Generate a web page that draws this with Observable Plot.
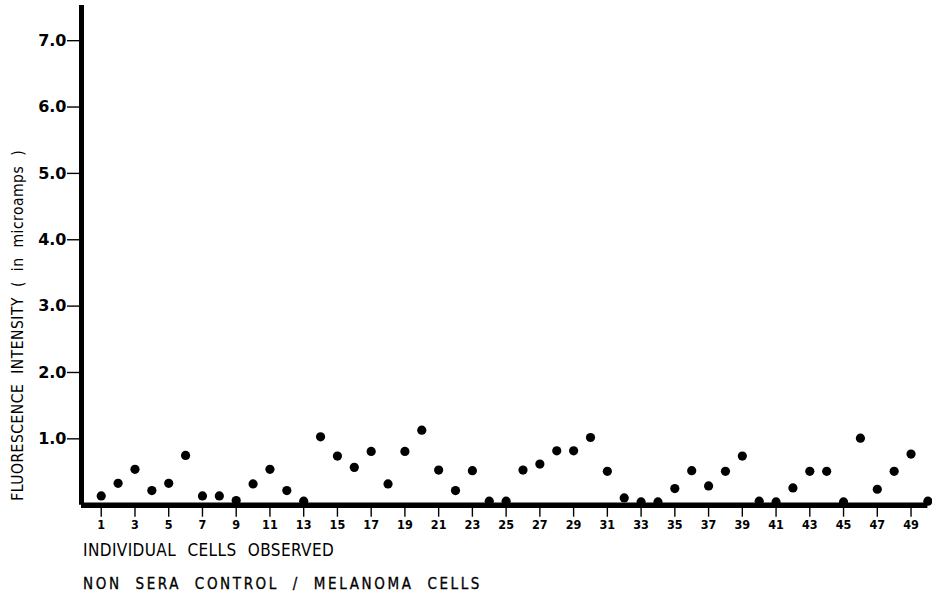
<!DOCTYPE html>
<html>
<head>
<meta charset="utf-8">
<script src="https://cdn.jsdelivr.net/npm/d3@7"></script>
<script src="https://cdn.jsdelivr.net/npm/@observablehq/plot@0.6"></script>
<style>
  html, body { margin: 0; padding: 0; background: #fff; }
  #wrap { position: relative; width: 932px; height: 603px; overflow: hidden; }
  .cap { position: absolute; left: 83px; color: #000; font-family: "DejaVu Sans Condensed", "DejaVu Sans", sans-serif; white-space: pre; }
  #cap1 { top: 540px; font-size: 17px; word-spacing: 6px; letter-spacing: 0.4px; }
  #cap2 { top: 575px; font-size: 15px; letter-spacing: 2.6px; word-spacing: 7px; -webkit-text-stroke: 0.3px #000; }
</style>
</head>
<body>
<div id="wrap">
  <div id="chart"></div>
  <div class="cap" id="cap1">INDIVIDUAL CELLS OBSERVED</div>
  <div class="cap" id="cap2">NON SERA CONTROL / MELANOMA CELLS</div>
</div>
<script>
// Fluorescence intensity (microamps) of each observed cell, cells 1..50
const intensity = [
  0.14, 0.33, 0.54, 0.22, 0.33, 0.75, 0.14, 0.14, 0.07, 0.32,
  0.54, 0.22, 0.06, 1.03, 0.74, 0.57, 0.81, 0.32, 0.81, 1.13,
  0.53, 0.22, 0.52, 0.06, 0.06, 0.53, 0.62, 0.82, 0.82, 1.02,
  0.51, 0.11, 0.05, 0.05, 0.25, 0.52, 0.29, 0.51, 0.74, 0.06,
  0.05, 0.26, 0.51, 0.51, 0.05, 1.01, 0.24, 0.51, 0.77, 0.06
];
const xTicks = [1,3,5,7,9,11,13,15,17,19,21,23,25,27,29,31,33,35,37,39,41,43,45,47,49];
const yTicks = [1, 2, 3, 4, 5, 6, 7];
const yTickLabels = ["1.0", "2.0", "3.0", "4.0", "5.0", "6.0", "7.0"];
const yTitle = "FLUORESCENCE INTENSITY ( in microamps )";

const xDomain = [-0.17, 50];
const yDomain = [0, 7.53];

const data = intensity.map((v, i) => ({cell: i + 1, value: v}));

const chart = Plot.plot({
  width: 932,
  height: 535,
  marginLeft: 81,
  marginRight: 4.6,
  marginTop: 5,
  marginBottom: 30.3,
  style: {background: "#fff", color: "#000"},
  x: {domain: xDomain},
  y: {domain: yDomain},
  marks: [
    Plot.axisY({
      ticks: yTicks,
      tickFormat: (d) => yTickLabels[yTicks.indexOf(d)],
      tickSize: 14,
      tickPadding: 1,
      strokeWidth: 1.4,
      fontSize: 16,
      fontWeight: "bold",
      fontFamily: "DejaVu Sans, sans-serif",
      label: null
    }),
    Plot.axisX({
      ticks: xTicks,
      tickFormat: (d) => String(d),
      tickSize: 12,
      tickPadding: 3,
      strokeWidth: 1.4,
      fontSize: 12.5,
      fontWeight: "bold",
      fontFamily: "Liberation Sans Narrow, DejaVu Sans Condensed, sans-serif",
      label: null
    }),
    Plot.ruleY([0], {stroke: "#000", strokeWidth: 5.5}),
    Plot.ruleX([xDomain[0]], {stroke: "#000", strokeWidth: 5}),
    Plot.dot(data, {x: "cell", y: "value", r: 4.6, fill: "#000", stroke: null}),
    Plot.text([yTitle], {
      frameAnchor: "left",
      textAnchor: "middle",
      rotate: -90,
      dx: -63,
      dy: 70,
      fontSize: 15.5,
      fontFamily: "DejaVu Sans Condensed, DejaVu Sans, sans-serif",
      fill: "#000",
      className: "ytitle"
    })
  ]
});
document.getElementById("chart").appendChild(chart);
chart.querySelectorAll(".ytitle text").forEach(t => {
  t.setAttribute("letter-spacing", "0.5");
  t.setAttribute("word-spacing", "5");
});
</script>
</body>
</html>
